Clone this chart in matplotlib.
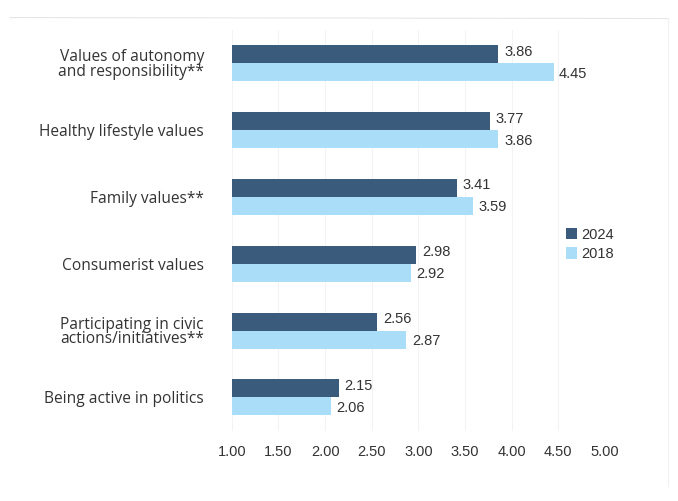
import matplotlib.pyplot as plt
import numpy as np

categories = ['Values of autonomy\nand responsibility**', 'Healthy lifestyle values',
              'Family values**', 'Consumerist values',
              'Participating in civic\nactions/initiatives**', 'Being active in politics']
values_2024 = [3.86, 3.77, 3.41, 2.98, 2.56, 2.15]
values_2018 = [4.45, 3.86, 3.59, 2.92, 2.87, 2.06]
ticks = [1.0, 1.5, 2.0, 2.5, 3.0, 3.5, 4.0, 4.5, 5.0]

dark = '#3b5b7c'
light = '#a9ddf8'
txt = '#333333'
base = 1.0

fig = plt.figure(figsize=(6.78, 5.01), dpi=100)
ax = fig.add_axes([0.342, 0.14, 0.55, 0.80])

y = np.arange(len(categories))
h = 0.27
ax.barh(y - h / 2, np.array(values_2024) - base, left=base, height=h, color=dark, label='2024')
ax.barh(y + h / 2, np.array(values_2018) - base, left=base, height=h, color=light, label='2018')

for i, (a, b) in enumerate(zip(values_2024, values_2018)):
    ax.text(a + 0.06, i - h / 2 - 0.04, f'{a:.2f}', va='center', ha='left',
            fontsize=10.5, color=txt, family='Liberation Sans')
    ax.text(b + 0.06, i + h / 2 + 0.02, f'{b:.2f}', va='center', ha='left',
            fontsize=10.5, color=txt, family='Liberation Sans')

ax.set_xlim(1.0, 5.0)
ax.set_ylim(5.5, -0.5)
ax.set_xticks(ticks)
ax.set_xticklabels([f'{t:.2f}' for t in ticks], family='Liberation Sans', fontsize=10.5, color=txt)
ax.set_yticks(y)
ax.set_yticklabels(categories, family='Open Sans', fontsize=11.2, color=txt, linespacing=0.85)
ax.tick_params(length=0, pad=20, axis='y')
ax.tick_params(length=0, pad=10, axis='x')
for s in ax.spines.values():
    s.set_visible(False)
ax.grid(axis='x', color='#f3f3f3', linewidth=0.8)
ax.set_axisbelow(True)

leg = ax.legend(loc='center left', bbox_to_anchor=(0.86, 0.465), frameon=False,
                handlelength=0.8, handleheight=0.8, handletextpad=0.25,
                labelspacing=0.35, prop={'family': 'Liberation Sans', 'size': 10.5})
for t in leg.get_texts():
    t.set_color(txt)

# faint page edge lines
fig.add_artist(plt.Line2D([0.015, 0.985], [0.965, 0.963], color='#e6e6e6', lw=0.8))
fig.add_artist(plt.Line2D([0.985, 0.985], [0.963, 0.03], color='#f0f0f0', lw=0.8))

fig.savefig('out.png', dpi=100)
